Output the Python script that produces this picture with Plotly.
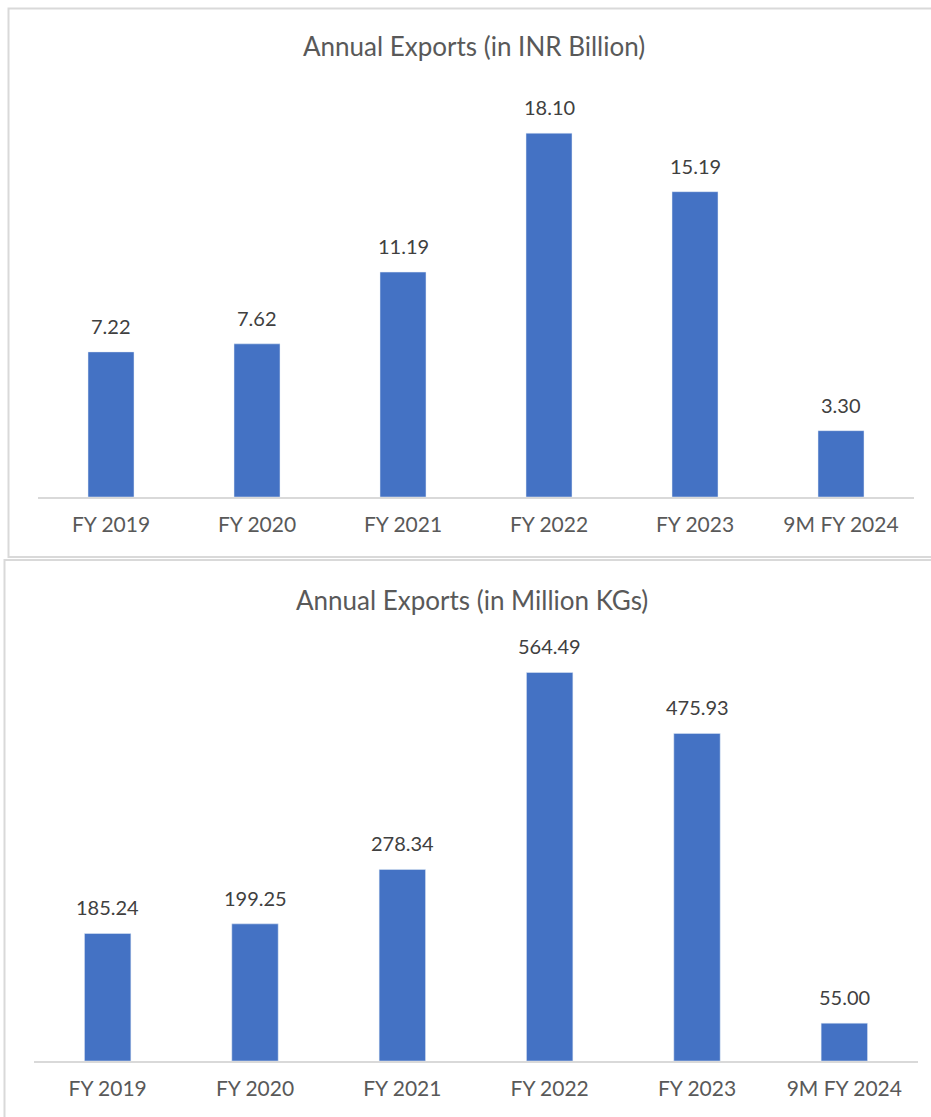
import plotly.graph_objects as go

categories = ["FY 2019", "FY 2020", "FY 2021", "FY 2022", "FY 2023", "9M FY 2024"]
inr_billion = [7.22, 7.62, 11.19, 18.10, 15.19, 3.30]
million_kgs = [185.24, 199.25, 278.34, 564.49, 475.93, 55.00]
titles = ["Annual Exports (in INR Billion)", "Annual Exports (in Million KGs)"]

W, H = 931, 1117
BAR = "#4472C4"
GRID = "#D9D9D9"
TXT = "#595959"
LBL = "#404040"
FONT = "Lato"

def py(px):
    return 1 - px / H

fig = go.Figure()
fig.add_trace(go.Bar(x=categories, y=inr_billion, marker_color=BAR, xaxis="x", yaxis="y",
                     hoverinfo="skip"))
fig.add_trace(go.Bar(x=categories, y=million_kgs, marker_color=BAR, xaxis="x2", yaxis="y2",
                     hoverinfo="skip"))

annotations = []
for c, v in zip(categories, inr_billion):
    annotations.append(dict(x=c, y=v, xref="x", yref="y", text=f"{v:.2f}", showarrow=False,
                            yanchor="bottom", yshift=12, font=dict(family=FONT, size=20, color=LBL)))
for c, v in zip(categories, million_kgs):
    annotations.append(dict(x=c, y=v, xref="x2", yref="y2", text=f"{v:.2f}", showarrow=False,
                            yanchor="bottom", yshift=12, font=dict(family=FONT, size=20, color=LBL)))
annotations.append(dict(x=474 / W, y=py(46), xref="paper", yref="paper", text=titles[0],
                        showarrow=False, xanchor="center", yanchor="middle",
                        font=dict(family=FONT, size=26, color=TXT)))
annotations.append(dict(x=472 / W, y=py(600), xref="paper", yref="paper", text=titles[1],
                        showarrow=False, xanchor="center", yanchor="middle",
                        font=dict(family=FONT, size=26, color=TXT)))

shapes = [
    dict(type="rect", xref="paper", yref="paper", x0=8.5 / W, x1=945 / W, y0=py(557), y1=py(8.5),
         line=dict(color=GRID, width=2), fillcolor="rgba(0,0,0,0)", layer="below"),
    dict(type="rect", xref="paper", yref="paper", x0=4.5 / W, x1=945 / W, y0=py(1130), y1=py(560),
         line=dict(color=GRID, width=2), fillcolor="rgba(0,0,0,0)", layer="below"),
]

xcommon = dict(showgrid=False, showline=True, linecolor=GRID, linewidth=1.5, ticks="",
               ticklabelstandoff=8,
               tickfont=dict(family=FONT, size=21, color=TXT), fixedrange=True)
ycommon = dict(showgrid=False, showline=False, showticklabels=False, zeroline=False, fixedrange=True)

fig.update_layout(
    width=W, height=H, margin=dict(l=0, r=0, t=0, b=0),
    paper_bgcolor="white", plot_bgcolor="white",
    showlegend=False, bargap=0.685,
    xaxis=dict(domain=[38 / W, 914 / W], anchor="y", **xcommon),
    yaxis=dict(domain=[py(497), py(95)], range=[0, 20], anchor="x", **ycommon),
    xaxis2=dict(domain=[34 / W, 918 / W], anchor="y2", **xcommon),
    yaxis2=dict(domain=[py(1061), py(648)], range=[0, 600], anchor="x2", **ycommon),
    annotations=annotations, shapes=shapes,
)

fig.write_html("out.html")
